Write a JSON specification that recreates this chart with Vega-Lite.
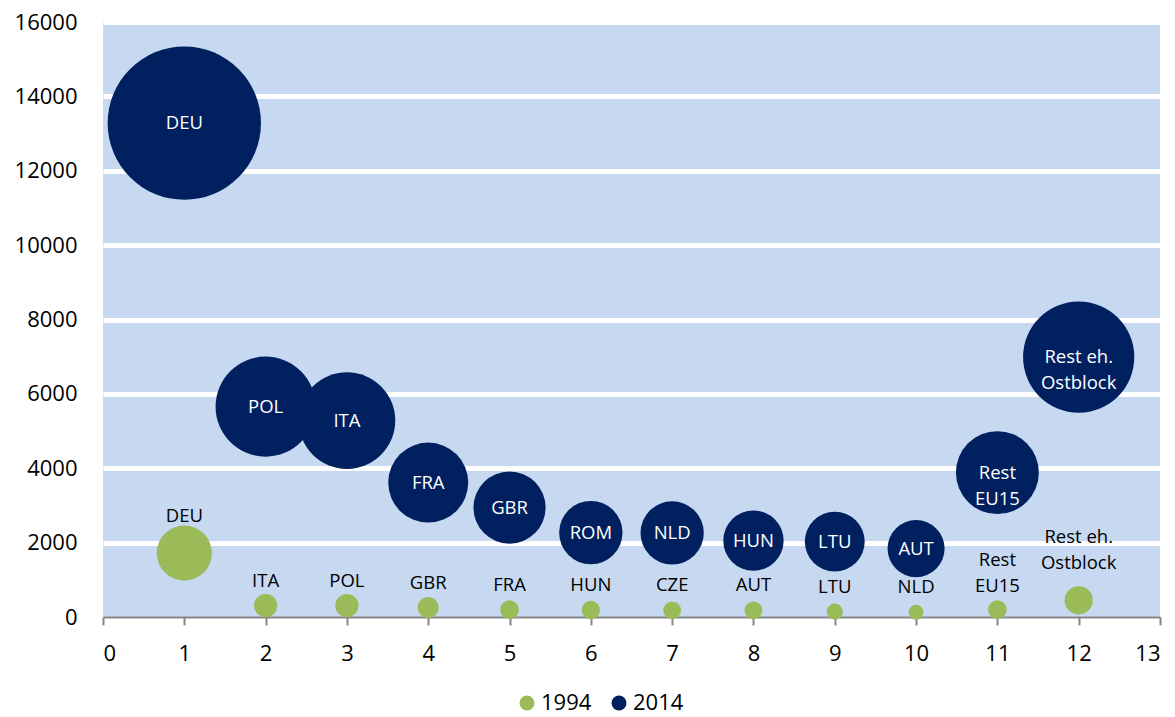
{
  "$schema": "https://vega.github.io/schema/vega-lite/v6.json",
  "width": 1057,
  "height": 595,
  "autosize": {"type": "none"},
  "padding": {"left": 103, "top": 22, "right": 15, "bottom": 100},
  "background": "white",
  "config": {
    "font": "Open Sans",
    "view": {"fill": "#C6D9F0", "stroke": null}
  },
  "data": {
    "values": [
      {"year": "1994", "pos": 1, "label": "DEU", "value": 1718},
      {"year": "1994", "pos": 2, "label": "ITA", "value": 307},
      {"year": "1994", "pos": 3, "label": "POL", "value": 307},
      {"year": "1994", "pos": 4, "label": "GBR", "value": 253},
      {"year": "1994", "pos": 5, "label": "FRA", "value": 199},
      {"year": "1994", "pos": 6, "label": "HUN", "value": 191},
      {"year": "1994", "pos": 7, "label": "CZE", "value": 180},
      {"year": "1994", "pos": 8, "label": "AUT", "value": 180},
      {"year": "1994", "pos": 9, "label": "LTU", "value": 145},
      {"year": "1994", "pos": 10, "label": "NLD", "value": 126},
      {"year": "1994", "pos": 11, "label": "Rest\nEU15", "value": 199},
      {"year": "1994", "pos": 12, "label": "Rest eh.\nOstblock", "value": 449},
      {"year": "2014", "pos": 1, "label": "DEU", "value": 13280},
      {"year": "2014", "pos": 2, "label": "POL", "value": 5657},
      {"year": "2014", "pos": 3, "label": "ITA", "value": 5281},
      {"year": "2014", "pos": 4, "label": "FRA", "value": 3614},
      {"year": "2014", "pos": 5, "label": "GBR", "value": 2942},
      {"year": "2014", "pos": 6, "label": "ROM", "value": 2269},
      {"year": "2014", "pos": 7, "label": "NLD", "value": 2261},
      {"year": "2014", "pos": 8, "label": "HUN", "value": 2054},
      {"year": "2014", "pos": 9, "label": "LTU", "value": 2027},
      {"year": "2014", "pos": 10, "label": "AUT", "value": 1839},
      {"year": "2014", "pos": 11, "label": "Rest\nEU15", "value": 3883},
      {"year": "2014", "pos": 12, "label": "Rest eh.\nOstblock", "value": 6989}
    ]
  },
  "encoding": {
    "x": {
      "field": "pos", "type": "quantitative",
      "scale": {"domain": [0, 13], "nice": false, "zero": true},
      "axis": {
        "title": null, "values": [0,1,2,3,4,5,6,7,8,9,10,11,12,13],
        "grid": false, "domain": true, "domainColor": "#868686", "domainWidth": 2,
        "ticks": true, "tickColor": "#868686", "tickWidth": 2, "tickSize": 8,
        "labelFontSize": 22, "labelColor": "#000000", "labelPadding": 18,
        "labelFont": "Open Sans"
      }
    },
    "y": {
      "field": "value", "type": "quantitative",
      "scale": {"domain": [0, 16000], "nice": false},
      "axis": {
        "title": null, "values": [0,2000,4000,6000,8000,10000,12000,14000,16000],
        "format": "d",
        "domain": false, "ticks": false,
        "grid": true, "gridWidth": 5,
        "gridColor": {"condition": {"test": "datum.value === 0", "value": "transparent"}, "value": "#FFFFFF"},
        "labelFontSize": 22, "labelColor": "#000000", "labelPadding": 26,
        "labelFont": "Open Sans"
      }
    }
  },
  "layer": [
    {
      "mark": {"type": "circle", "opacity": 1},
      "encoding": {
        "size": {
          "field": "value", "type": "quantitative",
          "scale": {"type": "linear", "domain": [0, 13280], "range": [0, 23500], "zero": true},
          "legend": null
        },
        "color": {
          "field": "year", "type": "nominal",
          "scale": {"domain": ["1994", "2014"], "range": ["#9BBB59", "#002060"]},
          "legend": {
            "title": null, "orient": "none", "direction": "horizontal",
            "legendX": 413, "legendY": 670,
            "symbolType": "circle", "symbolSize": 225, "symbolStrokeWidth": 0,
            "labelFontSize": 22, "labelFont": "Open Sans", "labelColor": "#000000",
            "labelOffset": 3, "columnPadding": 16, "padding": 0
          }
        }
      }
    },
    {
      "transform": [{"filter": "datum.year === '2014'"}],
      "mark": {"type": "text", "color": "#FFFFFF", "fontSize": 18.5, "align": "center", "baseline": "middle", "lineBreak": "\n", "lineHeight": 26},
      "encoding": {"text": {"field": "label"}}
    },
    {
      "transform": [{"filter": "datum.year === '1994' && datum.pos === 1"}],
      "mark": {"type": "text", "color": "#000000", "fontSize": 18.5, "align": "center", "baseline": "alphabetic", "lineBreak": "\n", "lineHeight": 26, "dy": -31.5},
      "encoding": {"text": {"field": "label"}}
    },
    {
      "transform": [{"filter": "datum.year === '1994' && datum.pos >= 2 && datum.pos <= 10"}],
      "mark": {"type": "text", "color": "#000000", "fontSize": 18.5, "align": "center", "baseline": "alphabetic", "lineBreak": "\n", "lineHeight": 26, "dy": -19},
      "encoding": {"text": {"field": "label"}}
    },
    {
      "transform": [{"filter": "datum.year === '1994' && datum.pos === 11"}],
      "mark": {"type": "text", "color": "#000000", "fontSize": 18.5, "align": "center", "baseline": "alphabetic", "lineBreak": "\n", "lineHeight": 26, "dy": -43.3},
      "encoding": {"text": {"field": "label"}}
    },
    {
      "transform": [{"filter": "datum.year === '1994' && datum.pos === 12"}],
      "mark": {"type": "text", "color": "#000000", "fontSize": 18.5, "align": "center", "baseline": "alphabetic", "lineBreak": "\n", "lineHeight": 26, "dy": -57.4},
      "encoding": {"text": {"field": "label"}}
    }
  ]
}
